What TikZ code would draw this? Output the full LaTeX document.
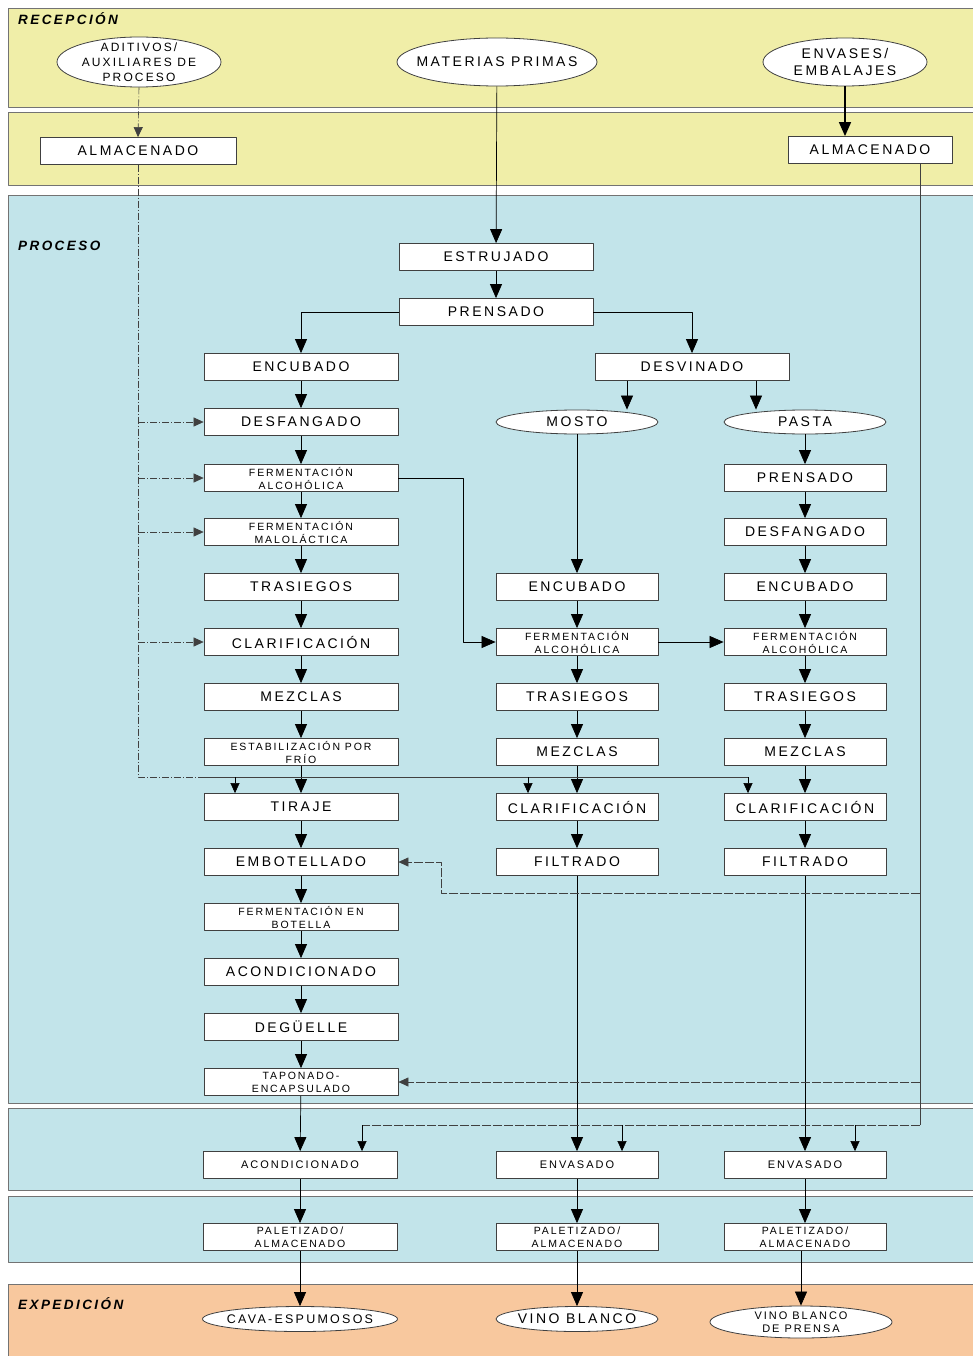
\documentclass[tikz,border=0pt]{standalone}
\usepackage{fontspec}
\setmainfont{Liberation Sans}[LetterSpace=18]
\usetikzlibrary{arrows.meta,shapes.geometric}
\definecolor{recep}{HTML}{F0EEA8}
\definecolor{proc}{HTML}{C2E4EA}
\definecolor{expe}{HTML}{F8C89E}
\begin{document}
\begin{tikzpicture}[x=1pt,y=-1pt,>={Triangle[width=12pt,length=14pt]},line join=round,
	paso/.style={draw=black!75,fill=white,line width=.8pt,minimum width=194pt,minimum height=27pt,inner sep=0pt,align=center,font=\fontsize{14}{16}\selectfont},
	pasob/.style={paso,minimum width=162pt},
	dos/.style={font=\fontsize{10.5}{13}\selectfont},
	ovalo/.style={ellipse,draw=black!75,fill=white,line width=.8pt,inner sep=0pt,align=center,font=\fontsize{14}{16}\selectfont},
	banda/.style={draw=black!55,line width=.9pt},
	titulo/.style={anchor=north west,inner sep=0pt,font=\fontsize{13.5}{13.5}\selectfont\bfseries\itshape},
	flujo/.style={->,line width=.7pt},
	aux/.style={draw=black!75,line width=.6pt,dash pattern=on 7pt off 2pt on 1pt off 2pt},
	env/.style={draw=black!75,line width=.6pt,dash pattern=on 9pt off 2pt},
	chica/.style={-{Triangle[width=9pt,length=10pt]}}]
	\useasboundingbox (0,0) rectangle (972,1356);
	\fill[recep] (8,8) rectangle (980,107);
	\draw[banda] (980,8) -- (8,8) -- (8,107) -- (980,107);
	\fill[recep] (8,112) rectangle (980,185);
	\draw[banda] (980,112) -- (8,112) -- (8,185) -- (980,185);
	\fill[proc] (8,195) rectangle (980,1103);
	\draw[banda] (980,195) -- (8,195) -- (8,1103) -- (980,1103);
	\fill[proc] (8,1108) rectangle (980,1190);
	\draw[banda] (980,1108) -- (8,1108) -- (8,1190) -- (980,1190);
	\fill[proc] (8,1196) rectangle (980,1262);
	\draw[banda] (980,1196) -- (8,1196) -- (8,1262) -- (980,1262);
	\fill[expe] (8,1284) rectangle (980,1360);
	\draw[banda] (980,1284) -- (8,1284) -- (8,1360);
	\node[titulo] (trec) at (18,12) {RECEPCIÓN};
	\node[titulo] (tpro) at (18,241) {PROCESO};
	\node[titulo] (texp) at (18,1297) {EXPEDICIÓN};

	\node[ovalo,minimum width=164pt,minimum height=50pt,inner ysep=-4pt,inner xsep=-2pt,font=\fontsize{12}{15}\selectfont] (adit) at (139,62) {ADITIVOS/\\AUXILIARES DE\\PROCESO};
	\node[ovalo,minimum width=200pt,minimum height=48pt,inner xsep=-12pt] (mp) at (497,62) {MATERIAS PRIMAS};
	\node[ovalo,minimum width=164pt,minimum height=48pt,font=\fontsize{14}{17}\selectfont] (envs) at (845,62) {ENVASES/\\EMBALAJES};
	\node[paso,minimum width=196pt] (alm1) at (138,151) {ALMACENADO};
	\node[paso,minimum width=164pt] (alm2) at (870,150) {ALMACENADO};

	\node[paso] (estr) at (496,257) {ESTRUJADO};
	\node[paso] (pre) at (496,312) {PRENSADO};
	\node[paso] (enc1) at (301,367) {ENCUBADO};
	\node[paso] (desv) at (692,367) {DESVINADO};
	\node[paso] (desf1) at (301,422) {DESFANGADO};
	\node[ovalo,minimum width=162pt,minimum height=24pt] (mos) at (577,422) {MOSTO};
	\node[ovalo,minimum width=162pt,minimum height=24pt] (pas) at (805,422) {PASTA};
	\node[paso,dos] (fa1) at (301,478) {FERMENTACIÓN\\ALCOHÓLICA};
	\node[pasob] (pre3) at (805,478) {PRENSADO};
	\node[paso,dos] (fm) at (301,532) {FERMENTACIÓN\\MALOLÁCTICA};
	\node[pasob] (desf3) at (805,532) {DESFANGADO};
	\node[paso] (tra1) at (301,587) {TRASIEGOS};
	\node[pasob] (enc2) at (577,587) {ENCUBADO};
	\node[pasob] (enc3) at (805,587) {ENCUBADO};
	\node[paso] (cla1) at (301,642) {CLARIFICACIÓN};
	\node[pasob,dos] (fa2) at (577,642) {FERMENTACIÓN\\ALCOHÓLICA};
	\node[pasob,dos] (fa3) at (805,642) {FERMENTACIÓN\\ALCOHÓLICA};
	\node[paso] (mez1) at (301,697) {MEZCLAS};
	\node[pasob] (tra2) at (577,697) {TRASIEGOS};
	\node[pasob] (tra3) at (805,697) {TRASIEGOS};
	\node[paso,dos] (est) at (301,752) {ESTABILIZACIÓN POR\\FRÍO};
	\node[pasob] (mez2) at (577,752) {MEZCLAS};
	\node[pasob] (mez3) at (805,752) {MEZCLAS};
	\node[paso] (tir) at (301,807) {TIRAJE};
	\node[pasob] (cla2) at (577,807) {CLARIFICACIÓN};
	\node[pasob] (cla3) at (805,807) {CLARIFICACIÓN};
	\node[paso] (emb) at (301,862) {EMBOTELLADO};
	\node[pasob] (fil2) at (577,862) {FILTRADO};
	\node[pasob] (fil3) at (805,862) {FILTRADO};
	\node[paso,dos] (feb) at (301,917) {FERMENTACIÓN EN\\BOTELLA};
	\node[paso] (aco1) at (301,972) {ACONDICIONADO};
	\node[paso] (deg) at (301,1027) {DEGÜELLE};
	\node[paso,dos] (tap) at (301,1082) {TAPONADO-\\ENCAPSULADO};
	\node[paso,font=\fontsize{11}{13}\selectfont] (aco2) at (300,1165) {ACONDICIONADO};
	\node[pasob,font=\fontsize{11}{13}\selectfont] (env2) at (577,1165) {ENVASADO};
	\node[pasob,font=\fontsize{11}{13}\selectfont] (env3) at (805,1165) {ENVASADO};
	\node[paso,dos] (pal1) at (300,1237) {PALETIZADO/\\ALMACENADO};
	\node[pasob,dos] (pal2) at (577,1237) {PALETIZADO/\\ALMACENADO};
	\node[pasob,dos] (pal3) at (805,1237) {PALETIZADO/\\ALMACENADO};
	\node[ovalo,minimum width=195pt,minimum height=25pt,inner xsep=-10pt,font=\fontsize{12.5}{14}\selectfont] (cava) at (300,1319) {CAVA-ESPUMOSOS};
	\node[ovalo,minimum width=162pt,minimum height=25pt,inner xsep=-6pt] (vb) at (577,1319) {VINO BLANCO};
	\node[ovalo,minimum width=182pt,minimum height=32pt,inner ysep=-2pt,font=\fontsize{11}{13}\selectfont] (vbp) at (801,1322) {VINO BLANCO\\DE PRENSA};

	\draw[flujo] (mp) -- (estr);
	\draw[flujo] (estr) -- (pre);
	\draw[flujo] (pre.west) -| (enc1.north);
	\draw[flujo] (pre.east) -| (desv.north);
	\draw[flujo] (enc1) -- (desf1);
	\draw[flujo] (desf1) -- (fa1);
	\draw[flujo] (fa1) -- (fm);
	\draw[flujo] (fm) -- (tra1);
	\draw[flujo] (tra1) -- (cla1);
	\draw[flujo] (cla1) -- (mez1);
	\draw[flujo] (mez1) -- (est);
	\draw[flujo] (est) -- (tir);
	\draw[flujo] (tir) -- (emb);
	\draw[flujo] (emb) -- (feb);
	\draw[flujo] (feb) -- (aco1);
	\draw[flujo] (aco1) -- (deg);
	\draw[flujo] (deg) -- (tap);
	\draw[flujo] (tap) -- (aco2);
	\draw[flujo] (aco2) -- (pal1);
	\draw[flujo] (pal1) -- (cava);
	\draw[flujo] ([xshift=-65pt]desv.south) -- ([xshift=-65pt]desv.south |- mos.north);
	\draw[flujo] ([xshift=64pt]desv.south) -- ([xshift=64pt]desv.south |- pas.north);
	\draw[flujo] (mos) -- (enc2);
	\draw[flujo] (enc2) -- (fa2);
	\draw[flujo] (fa2) -- (tra2);
	\draw[flujo] (tra2) -- (mez2);
	\draw[flujo] (mez2) -- (cla2);
	\draw[flujo] (cla2) -- (fil2);
	\draw[flujo] (fil2) -- (env2);
	\draw[flujo] (env2) -- (pal2);
	\draw[flujo] (pal2) -- (vb);
	\draw[flujo] (pas) -- (pre3);
	\draw[flujo] (pre3) -- (desf3);
	\draw[flujo] (desf3) -- (enc3);
	\draw[flujo] (enc3) -- (fa3);
	\draw[flujo] (fa3) -- (tra3);
	\draw[flujo] (tra3) -- (mez3);
	\draw[flujo] (mez3) -- (cla3);
	\draw[flujo] (cla3) -- (fil3);
	\draw[flujo] (fil3) -- (env3);
	\draw[flujo] (env3) -- (pal3);
	\draw[flujo] (pal3.south -| vbp.north) -- (vbp.north);
	\draw[flujo] (fa1.east) -- ++(65,0) |- (fa2.west);
	\draw[flujo] (fa2) -- (fa3);
	\draw[->,line width=1.6pt] (envs.south) -- (envs.south |- alm2.north);

	\coordinate (ad) at (138,777);
	\coordinate (ad1) at (205,777);
	\coordinate (ad2) at (235,777);
	\coordinate (ad3) at (528,777);
	\coordinate (ad4) at (748,777);
	\draw[aux,chica] (adit.south) -- (alm1.north);
	\draw[aux] (alm1.south) -- (ad) -- (ad1);
	\draw[draw=black!75,line width=.6pt] (ad1) -- (ad4);
	\draw[aux,chica] (ad |- desf1) -- (desf1.west);
	\draw[aux,chica] (ad |- fa1) -- (fa1.west);
	\draw[aux,chica] (ad |- fm) -- (fm.west);
	\draw[aux,chica] (ad |- cla1) -- (cla1.west);
	\draw[line width=.6pt,chica] (ad2) -- (ad2 |- tir.north);
	\draw[line width=.6pt,chica] (ad3) -- (ad3 |- cla2.north);
	\draw[line width=.6pt,chica] (ad4) -- (ad4 |- cla3.north);

	\coordinate (r) at (920,1125);
	\coordinate (r1) at (920,893);
	\coordinate (r2) at (441,893);
	\coordinate (r3) at (855,1125);
	\coordinate (r4) at (622,1125);
	\coordinate (r5) at (362,1125);
	\draw[draw=black!75,line width=.6pt] (alm2.south -| r) -- (r);
	\draw[env,chica] (r1) -- (r2) |- (emb.east);
	\draw[env,chica] (r |- tap) -- (tap.east);
	\draw[env] (r) -- (r5);
	\draw[line width=.6pt,chica] (r3) -- (r3 |- env3.north);
	\draw[line width=.6pt,chica] (r4) -- (r4 |- env2.north);
	\draw[line width=.6pt,chica] (r5) -- (r5 |- aco2.north);
\end{tikzpicture}
\end{document}
